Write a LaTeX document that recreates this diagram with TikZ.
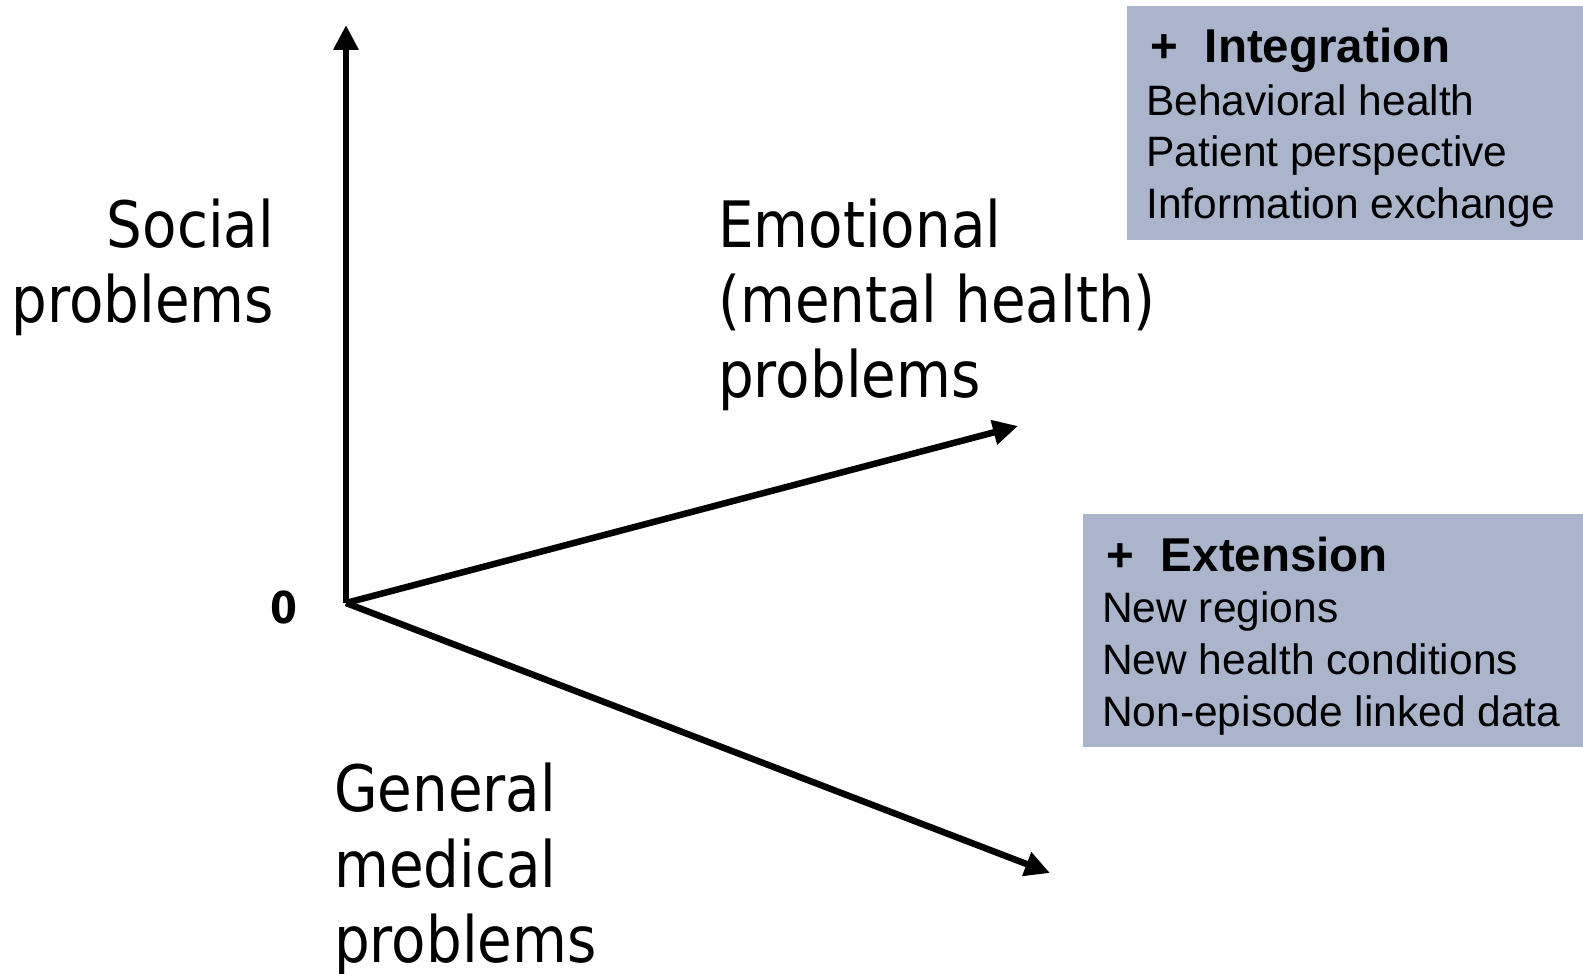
\documentclass[tikz,border=0pt]{standalone}
\usepackage{fontspec}
\setmainfont{Liberation Sans}
\newfontfamily\tah[FakeStretch=0.88]{DejaVu Sans}
\usetikzlibrary{arrows.meta}
\definecolor{boxc}{RGB}{170,180,202}
\tikzset{
  axis/.style={line width=6.5pt, -{Triangle[length=25pt,width=24pt]}},
  biglbl/.style={inner sep=0pt, font=\tah\fontsize{64}{75}\selectfont},
  boxbg/.style={fill=boxc, draw=none, inner sep=0pt, anchor=north west},
  boxtitle/.style={inner sep=0pt, anchor=base west, font=\bfseries\fontsize{47.5}{50}\selectfont},
  boxline/.style={inner sep=0pt, anchor=base west, font=\fontsize{42.5}{50}\selectfont},
}
\begin{document}
\begin{tikzpicture}[x=1pt,y=-1pt]
\useasboundingbox (0,0) rectangle (1583,974);
% boxes
\node[boxbg, minimum width=456pt, minimum height=234pt] (ibox) at (1127,6) {};
\node[boxbg, minimum width=500pt, minimum height=233pt] (ebox) at (1083,514) {};
\node[boxtitle] (it) at (1150,63) {+\hspace{27pt}Integration};
\node[boxline] (i1) at (1146,115) {Behavioral health};
\node[boxline] (i2) at (1146,166) {Patient perspective};
\node[boxline] (i3) at (1146,218) {Information exchange};
\node[boxtitle] (et) at (1106,571) {+\hspace{27pt}Extension};
\node[boxline] (e1) at (1102,622) {New regions};
\node[boxline] (e2) at (1102,674) {New health conditions};
\node[boxline] (e3) at (1102,726) {Non-episode linked data};
% axes
\coordinate (o) at (346,603);
\coordinate (ytip) at (346,25);
\coordinate (etip) at (1018,426);
\coordinate (gtip) at (1050,873);
\draw[axis] (o) -- (ytip);
\draw[axis] (o) -- (etip);
\draw[axis] (o) -- (gtip);
\node[inner sep=0pt, font=\tah\bfseries\fontsize{44}{50}\selectfont] (zero) at (284,607) {0};
% labels
\node[biglbl, anchor=base east] (s1) at (274,247) {Social};
\node[biglbl, anchor=base east] (s2) at (274,322) {problems};
\node[biglbl, anchor=base west] (m1) at (718,247) {Emotional};
\node[biglbl, anchor=base west] (m2) at (718,322) {(mental health)};
\node[biglbl, anchor=base west] (m3) at (718,397) {problems};
\node[biglbl, anchor=base west] (g1) at (334,811) {General};
\node[biglbl, anchor=base west] (g2) at (334,887) {medical};
\node[biglbl, anchor=base west] (g3) at (334,962) {problems};
\end{tikzpicture}
\end{document}
